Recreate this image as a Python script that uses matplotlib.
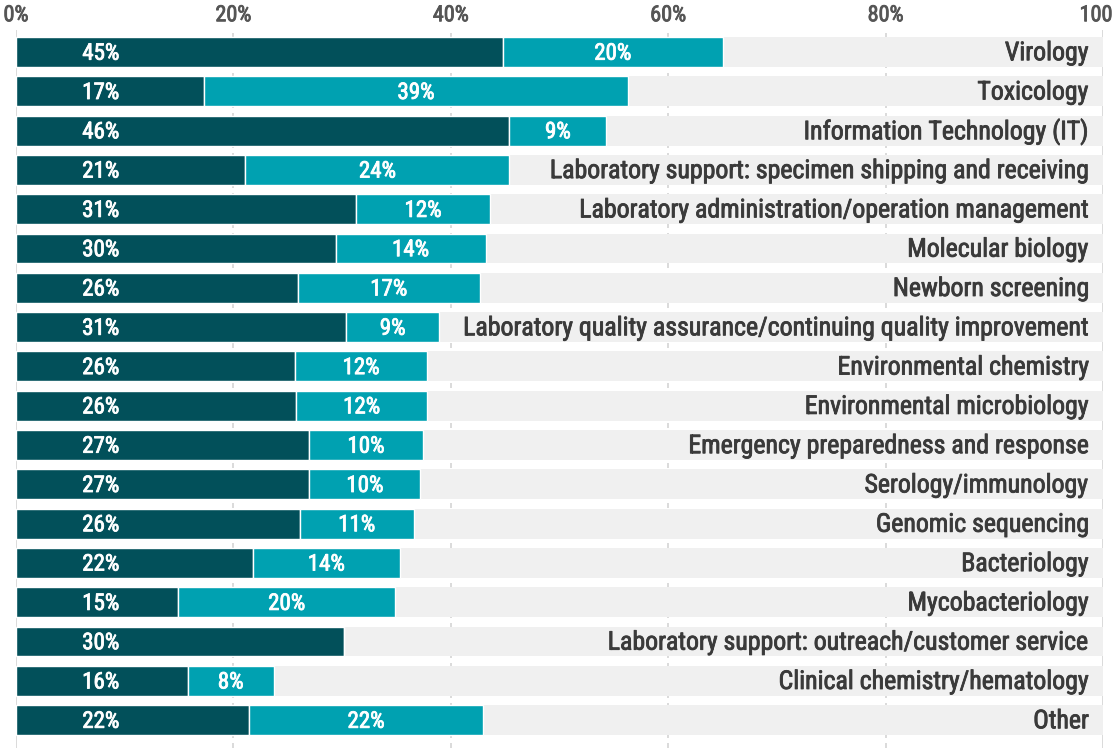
import matplotlib
matplotlib.use("Agg")
import matplotlib.pyplot as plt
import matplotlib.patheffects as pe
from matplotlib import font_manager

# ===== Data =====
categories = [
    "Virology",
    "Toxicology",
    "Information Technology (IT)",
    "Laboratory support: specimen shipping and receiving",
    "Laboratory administration/operation management",
    "Molecular biology",
    "Newborn screening",
    "Laboratory quality assurance/continuing quality improvement",
    "Environmental chemistry",
    "Environmental microbiology",
    "Emergency preparedness and response",
    "Serology/immunology",
    "Genomic sequencing",
    "Bacteriology",
    "Mycobacteriology",
    "Laboratory support: outreach/customer service",
    "Clinical chemistry/hematology",
    "Other",
]
dark_vals = [44.8, 17.3, 45.4, 21.1, 31.3, 29.4, 25.9, 30.4, 25.7, 25.8,
             27.0, 27.0, 26.1, 21.8, 14.9, 30.2, 15.8, 21.4]
teal_vals = [20.2, 39.0, 8.9, 24.3, 12.3, 13.8, 16.8, 8.5, 12.1, 12.0,
             10.4, 10.2, 10.5, 13.5, 20.0, 0.0, 7.9, 21.6]
dark_labels = ["45%", "17%", "46%", "21%", "31%", "30%", "26%", "31%", "26%",
               "26%", "27%", "27%", "26%", "22%", "15%", "30%", "16%", "22%"]
teal_labels = ["20%", "39%", "9%", "24%", "12%", "14%", "17%", "9%", "12%",
               "12%", "10%", "10%", "11%", "14%", "20%", "", "8%", "22%"]
ticks = [0, 20, 40, 60, 80, 100]
tick_labels = ["0%", "20%", "40%", "60%", "80%", "100%"]

# ===== Style =====
COL = {
    'dark': '#02505a',
    'teal': '#00a1b1',
    'track': '#f0f0f0',
    'grid': '#d4d4d4',
    'text': '#3a3a3a',
    'tick': '#555555',
}

installed = {f.name for f in font_manager.fontManager.ttflist}
family = [f for f in ["Roboto Condensed", "Liberation Sans Narrow", "Roboto", "DejaVu Sans"] if f in installed]
plt.rcParams['font.family'] = family


def thicken(color):
    # fake a "medium" weight with a thin stroke in the text colour
    return [pe.withStroke(linewidth=0.6, foreground=color)]


fig = plt.figure(figsize=(11.13, 7.48), dpi=100)
ax = fig.add_axes([16 / 1113, 0.0, (1103 - 16) / 1113, 1 - 30.4 / 748])

y = list(range(len(categories)))
bar_h = 0.76

# grid lines behind everything
for t in ticks:
    ls = '-' if t in (0, 100) else (0, (3, 3))
    ax.axvline(t, color=COL['grid'], lw=1.2, ls=ls, zorder=0)

# background track to 100%
ax.barh(y, [100] * len(y), height=bar_h, color=COL['track'], zorder=1)
ax.barh(y, dark_vals, height=bar_h, color=COL['dark'], edgecolor='white', lw=1.0, zorder=2)
ax.barh(y, teal_vals, left=dark_vals, height=bar_h, color=COL['teal'],
        edgecolor='white', lw=1.0, zorder=2)

for i in y:
    ax.text(7.8, i + 0.03, dark_labels[i], ha='center', va='center', color='white',
            fontsize=16.5, zorder=3, path_effects=thicken('white'))
    if teal_labels[i]:
        ax.text(dark_vals[i] + teal_vals[i] / 2, i + 0.03, teal_labels[i], ha='center',
                va='center', color='white', fontsize=16.5, zorder=3,
                path_effects=thicken('white'))
    ax.text(98.7, i + 0.03, categories[i], ha='right', va='center', color=COL['text'],
            fontsize=18.6, zorder=3, path_effects=thicken(COL['text']))

ax.set_xlim(0, 100)
ax.set_ylim(17.71, -0.55)
ax.set_xticks(ticks)
ax.set_xticklabels(tick_labels)
ax.xaxis.tick_top()
ax.tick_params(axis='x', length=0, pad=3, labelsize=16, labelcolor=COL['tick'])
for lab in ax.get_xticklabels():
    lab.set_path_effects(thicken(COL['tick']))
ax.set_yticks([])
for s in ax.spines.values():
    s.set_visible(False)

fig.savefig('out.png', dpi=100)
